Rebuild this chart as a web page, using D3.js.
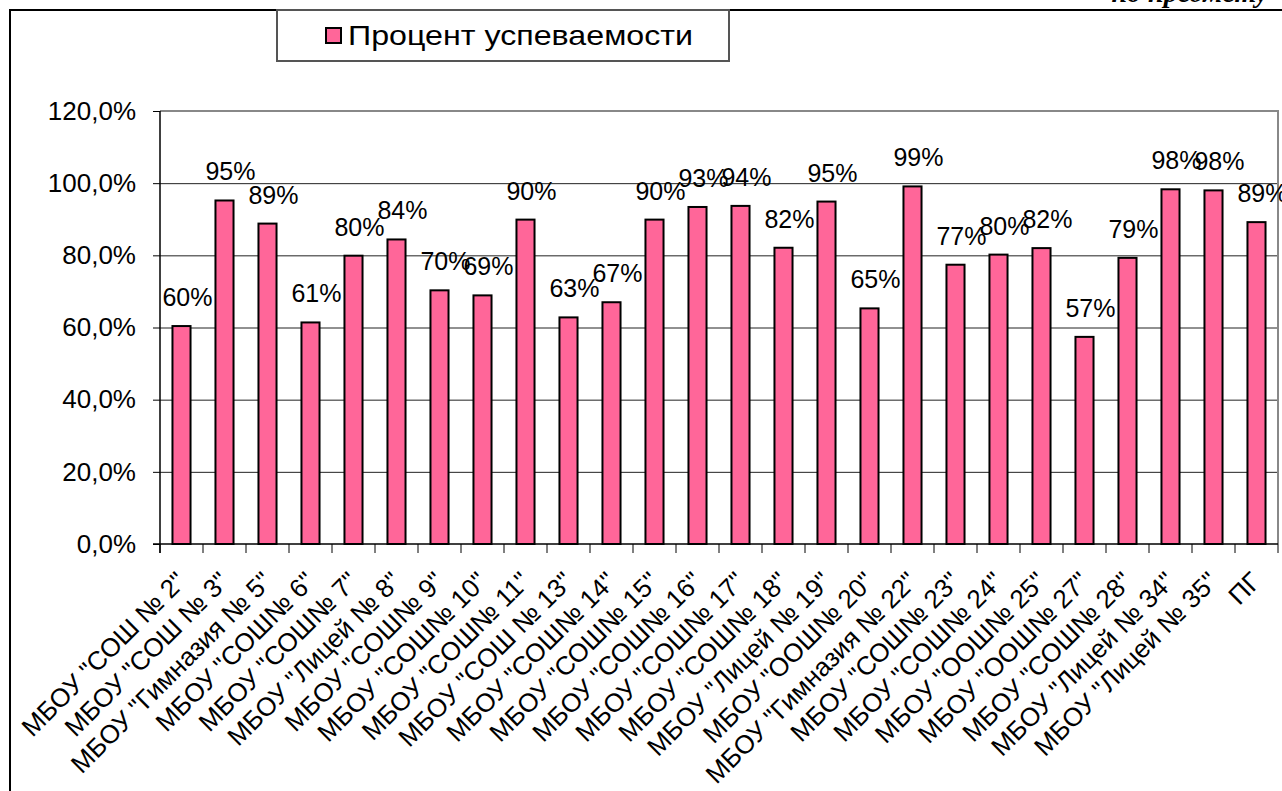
<!DOCTYPE html>
<html>
<head>
<meta charset="utf-8">
<script src="https://cdn.jsdelivr.net/npm/d3@7"></script>
<style>
  body { margin: 0; background: #fff; }
  svg { display: block; }
</style>
</head>
<body>
<script>
// school names as on the x axis
var schools = [
  'МБОУ "СОШ № 2"', 'МБОУ "СОШ № 3"', 'МБОУ "Гимназия № 5"', 'МБОУ "СОШ№ 6"',
  'МБОУ "СОШ№ 7"', 'МБОУ "Лицей № 8"', 'МБОУ "СОШ№ 9"', 'МБОУ "СОШ№ 10"',
  'МБОУ "СОШ№ 11"', 'МБОУ "СОШ № 13"', 'МБОУ "СОШ№ 14"', 'МБОУ "СОШ№ 15"',
  'МБОУ "СОШ№ 16"', 'МБОУ "СОШ№ 17"', 'МБОУ "СОШ№ 18"', 'МБОУ "Лицей № 19"',
  'МБОУ "ООШ№ 20"', 'МБОУ "Гимназия № 22"', 'МБОУ "СОШ№ 23"', 'МБОУ "СОШ№ 24"',
  'МБОУ "ООШ№ 25"', 'МБОУ "ООШ№ 27"', 'МБОУ "СОШ№ 28"', 'МБОУ "Лицей № 34"',
  'МБОУ "Лицей № 35"', 'ПГ'
];
// процент успеваемости (fraction)
var percent = [
  0.604, 0.952, 0.888, 0.614, 0.799, 0.844, 0.703, 0.689, 0.899, 0.628,
  0.670, 0.899, 0.934, 0.937, 0.821, 0.949, 0.653, 0.991, 0.774, 0.802,
  0.820, 0.574, 0.793, 0.983, 0.980, 0.892
];
var yTicks = [0, 0.2, 0.4, 0.6, 0.8, 1.0, 1.2];
var seriesName = "Процент успеваемости";

var width = 1282, height = 791;
var font = "'Liberation Sans', Arial, sans-serif";
var pink = "#ff6699";

var ru = d3.formatLocale({decimal: ",", thousands: " ", grouping: [3], currency: ["", " ₽"]});
var tickFmt = ru.format(".1%");
var labelFmt = ru.format(".0%");

var svg = d3.select("body").append("svg")
    .attr("width", width).attr("height", height);

svg.append("rect").attr("width", width).attr("height", height).attr("fill", "#fff");

// clipped line of document text above the chart
svg.append("text")
    .attr("x", 1268).attr("y", 2)
    .attr("text-anchor", "end")
    .attr("font-family", "'Liberation Serif', 'Times New Roman', serif")
    .attr("font-weight", "bold").attr("font-style", "italic")
    .attr("font-size", 28)
    .text("по предмету");

// chart frame
svg.append("line").attr("x1", 9).attr("x2", width).attr("y1", 10).attr("y2", 10)
    .attr("stroke", "#000").attr("stroke-width", 2);
svg.append("line").attr("x1", 10).attr("x2", 10).attr("y1", 9).attr("y2", height)
    .attr("stroke", "#000").attr("stroke-width", 2);

var margin = {left: 160, right: 4, top: 111, bottom: 247};
var x = d3.scaleBand()
    .domain(schools)
    .range([margin.left, width - margin.right])
    .paddingInner(0.58)
    .paddingOuter(0.29);
var y = d3.scaleLinear()
    .domain([0, 1.2])
    .range([height - margin.bottom, margin.top]);

var x0 = x.range()[0], x1 = x.range()[1];

// gridlines
svg.append("g").selectAll("line")
    .data(yTicks.filter(function(d){ return d > 0 && d < 1.2; }))
    .join("line")
    .attr("x1", x0).attr("x2", x1)
    .attr("y1", function(d){ return y(d) + 0.5; })
    .attr("y2", function(d){ return y(d) + 0.5; })
    .attr("stroke", "#222").attr("stroke-width", 1);

// plot area border (top / right)
svg.append("path")
    .attr("d", "M" + x0 + "," + y(1.2) + "H" + x1 + "V" + y(0))
    .attr("fill", "none").attr("stroke", "#888").attr("stroke-width", 2);

// bars
svg.append("g").selectAll("rect")
    .data(percent)
    .join("rect")
    .attr("x", function(d, i){ return x(schools[i]); })
    .attr("width", x.bandwidth())
    .attr("y", function(d){ return y(d); })
    .attr("height", function(d){ return y(0) - y(d); })
    .attr("fill", pink)
    .attr("stroke", "#000").attr("stroke-width", 2);

// data labels
svg.append("g").selectAll("text")
    .data(percent)
    .join("text")
    .attr("x", function(d, i){ return x(schools[i]) + x.bandwidth() / 2 + 6; })
    .attr("y", function(d){ return y(d) - 20; })
    .attr("text-anchor", "middle")
    .attr("font-family", font).attr("font-size", 25)
    .attr("fill", "#000")
    .text(function(d){ return labelFmt(d); });

// y axis
var yAxis = d3.axisLeft(y).tickValues(yTicks).tickFormat(tickFmt).tickSize(7).tickPadding(17);
var gy = svg.append("g").attr("transform", "translate(" + x0 + ",0)").call(yAxis);
gy.select(".domain").remove();
gy.selectAll("line").attr("stroke", "#000");
gy.selectAll("text").attr("font-family", font).attr("font-size", 26).attr("fill", "#000");
svg.append("line").attr("x1", x0).attr("x2", x0).attr("y1", y(1.2)).attr("y2", y(0) + 9)
    .attr("stroke", "#000").attr("stroke-width", 1.5);

// x axis line and ticks at category boundaries
svg.append("line").attr("x1", x0 - 7).attr("x2", x1).attr("y1", y(0)).attr("y2", y(0))
    .attr("stroke", "#000").attr("stroke-width", 1.5);
var bounds = schools.map(function(s){ return x(s) + x.bandwidth() / 2 - x.step() / 2; });
bounds.push(x1);
svg.append("g").selectAll("line")
    .data(bounds)
    .join("line")
    .attr("x1", function(d){ return d; }).attr("x2", function(d){ return d; })
    .attr("y1", y(0)).attr("y2", y(0) + 9)
    .attr("stroke", "#000").attr("stroke-width", 1);

// rotated category labels
svg.append("g").selectAll("text")
    .data(schools)
    .join("text")
    .attr("transform", function(d){
      return "translate(" + (x(d) + x.bandwidth() / 2 + 6) + "," + (y(0) + 39) + ") rotate(-45)";
    })
    .attr("text-anchor", "end")
    .attr("font-family", font).attr("font-size", 26)
    .attr("fill", "#000")
    .text(function(d){ return d; });

// legend
var legend = svg.append("g");
legend.append("rect")
    .attr("x", 277).attr("y", 10).attr("width", 452).attr("height", 51)
    .attr("fill", "#fff").attr("stroke", "#555").attr("stroke-width", 2);
legend.append("rect")
    .attr("x", 326).attr("y", 28).attr("width", 15).attr("height", 15)
    .attr("fill", pink).attr("stroke", "#000").attr("stroke-width", 2);
legend.append("text")
    .attr("x", 348).attr("y", 45)
    .attr("font-family", font).attr("font-size", 28)
    .attr("textLength", 345).attr("lengthAdjust", "spacingAndGlyphs")
    .attr("fill", "#000")
    .text(seriesName);
</script>
</body>
</html>
